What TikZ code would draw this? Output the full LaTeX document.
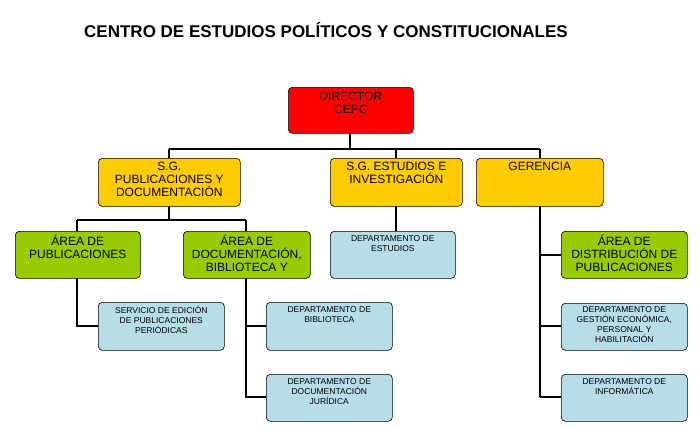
\documentclass[tikz,border=0pt]{standalone}
\usepackage{fontspec}
\setmainfont{Liberation Sans}
\definecolor{cy}{HTML}{FFCC00}\definecolor{cg}{HTML}{99CC00}\definecolor{cb}{HTML}{B7DEE8}
\begin{document}
\begin{tikzpicture}[x=1pt,y=-1pt,
  box/.style={draw=black,rounded corners=4pt,line width=0.6pt,inner sep=0pt,anchor=north west},
  red/.style={fill=red},yel/.style={fill=cy},grn/.style={fill=cg},
  blu/.style={fill=cb},
  big/.style={font=\fontsize{12}{13}\selectfont,align=center,anchor=north,inner sep=0pt},
  sml/.style={font=\fontsize{8.5}{10}\selectfont,align=center,anchor=north,inner sep=0pt},
  ln/.style={line width=1.6pt}]
\useasboundingbox (0,0) rectangle (700,428);
\node[font=\bfseries\fontsize{17}{19}\selectfont] (title) at (326,30) {CENTRO DE ESTUDIOS POLÍTICOS Y CONSTITUCIONALES};
\newcommand\bx[7]{\node[box,#6,minimum width=#4-#2,minimum height=#5-#3] (#1) at (#2,#3) {};}
\draw[ln] (350,133) -- (350,149) (169,149) -- (540,149) (169,149) -- (169,158) (396,149)--(396,158) (540,149)--(540,158);
\draw[ln] (169,206) -- (169,220) (77,220) -- (246,220) (77,220)--(77,231) (246,220)--(246,231);
\draw[ln] (396,206) -- (396,231);
\draw[ln] (540,206) -- (540,397) (540,255)--(561,255) (540,326)--(561,326) (540,397)--(561,397);
\draw[ln] (77,278) -- (77,326) -- (98,326);
\draw[ln] (246,278) -- (246,397) -- (266,397) (246,326)--(266,326);
\bx{dir}{288}{87}{413}{133}{red}{}
\node[big] at ([yshift=-5]dir.north) {DIRECTOR\\CEPC};
\bx{sgp}{98}{158}{240}{206}{yel}{}
\node[big] at ([yshift=-4]sgp.north) {S.G.\\PUBLICACIONES Y\\DOCUMENTACIÓN};
\bx{sge}{330}{158}{462}{206}{yel}{}
\node[big] at ([yshift=-4]sge.north) {S.G. ESTUDIOS E\\INVESTIGACIÓN};
\bx{ger}{476}{158}{603}{206}{yel}{}
\node[big] at ([yshift=-4]ger.north) {GERENCIA};
\bx{ap}{15}{231}{140}{278}{grn}{}
\node[big] at ([yshift=-4]ap.north) {ÁREA DE\\PUBLICACIONES};
\bx{ad}{183}{231}{310}{278}{grn}{}
\node[big] at ([yshift=-4]ad.north) {ÁREA DE\\DOCUMENTACIÓN,\\BIBLIOTECA Y};
\bx{de}{330}{231}{455}{278}{blu}{}
\node[sml] at ([yshift=-4]de.north) {DEPARTAMENTO DE\\ESTUDIOS};
\bx{adp}{561}{231}{687}{278}{grn}{}
\node[big] at ([yshift=-4]adp.north) {ÁREA DE\\DISTRIBUCIÓN DE\\PUBLICACIONES};
\bx{se}{98}{302}{224}{350}{blu}{}
\node[sml] at ([yshift=-4]se.north) {SERVICIO DE EDICIÓN\\DE PUBLICACIONES\\PERIÓDICAS};
\bx{db}{266}{302}{392}{350}{blu}{}
\node[sml] at ([yshift=-4]db.north) {DEPARTAMENTO DE\\BIBLIOTECA};
\bx{dj}{266}{374}{392}{421}{blu}{}
\node[sml] at ([yshift=-4]dj.north) {DEPARTAMENTO DE\\DOCUMENTACIÓN\\JURÍDICA};
\bx{dg}{561}{303}{687}{350}{blu}{}
\node[sml] at ([yshift=-3]dg.north) {DEPARTAMENTO DE\\GESTIÓN ECONÓMICA,\\PERSONAL Y\\HABILITACIÓN};
\bx{di}{561}{374}{687}{421}{blu}{}
\node[sml] at ([yshift=-4]di.north) {DEPARTAMENTO DE\\INFORMÁTICA};
\end{tikzpicture}
\end{document}
